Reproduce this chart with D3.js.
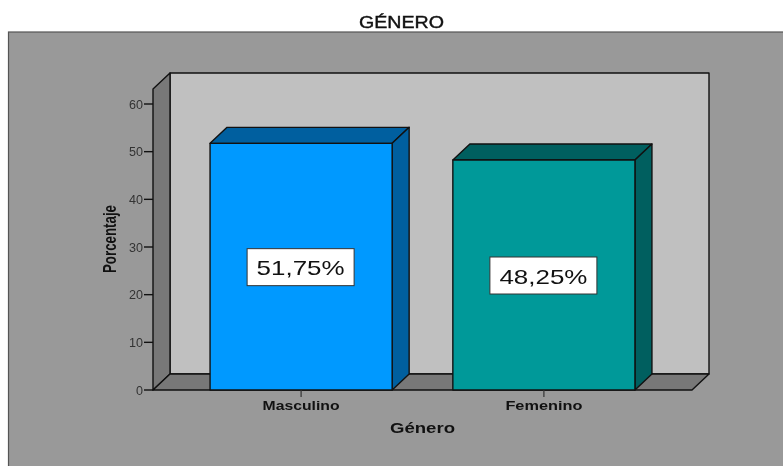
<!DOCTYPE html>
<html><head><meta charset="utf-8">
<script src="https://cdn.jsdelivr.net/npm/d3@7"></script>
<style>html,body{margin:0;padding:0;background:#fff}svg{display:block;filter:blur(0.35px)}text{font-family:"Liberation Sans",Arial,sans-serif;fill:#111}</style>
</head><body><svg id="c" width="783" height="466"></svg>
<script>
const categories = ["Masculino","Femenino"];
const values = [51.75,48.25];
const valueLabels = ["51,75%","48,25%"];
const tickValues = [0,10,20,30,40,50,60];
const frontColors = ["#0099ff","#009999"];
const topColors = ["#005f9f","#005f5f"];
const sideColors = ["#005f9f","#005f5f"];
const title = "GÉNERO", xTitle = "Género", yTitle = "Porcentaje";

const svg = d3.select("#c");
const dx = 17, dy = -16;
const y = d3.scaleLinear().domain([0,60]).range([390,104]);
const x = d3.scaleBand().domain(categories).range([153,692]).paddingInner(0.25).paddingOuter(0.235);
const wallTop = 89;
const stroke = "#111";
const poly = (pts,fill,sw=1.4)=>svg.append("path").attr("d","M"+pts.map(p=>p.join(",")).join("L")+"Z")
  .attr("fill",fill).attr("stroke",stroke).attr("stroke-width",sw).attr("stroke-linejoin","round");
const fit = (sel,w)=>sel.attr("textLength",w).attr("lengthAdjust","spacingAndGlyphs");

svg.append("rect").attr("x",8.5).attr("y",32).attr("width",790).attr("height",450).attr("fill","#999999").attr("stroke","#555").attr("stroke-width",1.2);
fit(svg.append("text").attr("x",401.5).attr("y",27.5).attr("text-anchor","middle").attr("font-size",16).attr("stroke","#111").attr("stroke-width",0.4).text(title),85);

const L=x.range()[0], R=x.range()[1], B=y(0);
// back wall, side wall, floor
poly([[L+dx,wallTop+dy],[R+dx,wallTop+dy],[R+dx,B+dy],[L+dx,B+dy]],"#c0c0c0");
poly([[L,wallTop],[L+dx,wallTop+dy],[L+dx,B+dy],[L,B]],"#787878");
poly([[L,B],[L+dx,B+dy],[R+dx,B+dy],[R,B]],"#787878");

// y axis
tickValues.forEach(t=>{
  svg.append("line").attr("x1",L-9).attr("x2",L).attr("y1",y(t)).attr("y2",y(t)).attr("stroke",stroke).attr("stroke-width",1.4);
  fit(svg.append("text").attr("x",L-10).attr("y",y(t)+4.5).attr("text-anchor","end").attr("font-size",12).style("fill","#333").text(t),String(t).length*7);
});
fit(svg.append("text").attr("transform","translate(116,239) rotate(-90)").attr("text-anchor","middle").attr("font-size",18).attr("font-weight",700).text(yTitle),68);

categories.forEach((c,i)=>{
  const x0=x(c), x1=x0+x.bandwidth(), yt=y(values[i]), cx=x0+x.bandwidth()/2;
  poly([[x0,yt],[x0+dx,yt+dy],[x1+dx,yt+dy],[x1,yt]],topColors[i]);
  poly([[x1,yt],[x1+dx,yt+dy],[x1+dx,B+dy],[x1,B]],sideColors[i]);
  poly([[x0,yt],[x1,yt],[x1,B],[x0,B]],frontColors[i]);
  svg.append("line").attr("x1",cx).attr("x2",cx).attr("y1",B).attr("y2",B+7).attr("stroke","#333").attr("stroke-width",1.2);
  fit(svg.append("text").attr("x",cx).attr("y",410).attr("text-anchor","middle").attr("font-size",13).attr("font-weight",700).text(c),77);
  const my=(yt+B)/2+1;
  svg.append("rect").attr("x",cx-54).attr("y",my-19).attr("width",107).attr("height",37).attr("fill","#fff").attr("stroke","#333").attr("stroke-width",1);
  fit(svg.append("text").attr("x",cx-0.5).attr("y",my+7.5).attr("text-anchor","middle").attr("font-size",21).text(valueLabels[i]),88);
});
fit(svg.append("text").attr("x",422.5).attr("y",433).attr("text-anchor","middle").attr("font-size",14).attr("font-weight",700).text(xTitle),65);
</script></body></html>
